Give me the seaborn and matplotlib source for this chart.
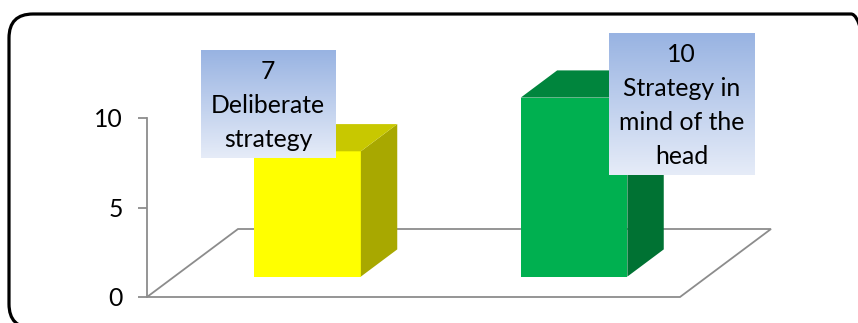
import numpy as np
import matplotlib
matplotlib.use("Agg")
import matplotlib.pyplot as plt
import seaborn as sns
from matplotlib.patches import Polygon, FancyBboxPatch
from matplotlib.transforms import Affine2D, IdentityTransform, Bbox
from matplotlib.image import BboxImage
from matplotlib.colors import LinearSegmentedColormap

# ---- data -------------------------------------------------------------
categories = ["Deliberate strategy", "Strategy in mind of the head"]
label_names = ["Deliberate\nstrategy", "Strategy in\nmind of the\nhead"]
values = [7, 10]
yticks = [0, 5, 10]

# ---- styling ----------------------------------------------------------
front_colors = ["#FFFF00", "#00B050"]
top_colors = ["#C8C800", "#00853D"]
side_colors = ["#A8A800", "#007233"]
axis_grey = "#8C8C8C"
label_top, label_bottom = "#98B3E2", "#E6ECF8"

DPI = 100
W, H = 858, 323
FLOOR_DEPTH = np.array([91.0, 68.0])   # depth vector of the floor, pixels
BAR_DEPTH = (0.30, 0.70)               # bars occupy this slice of the floor depth
FONT_PT = 17.8

sns.set_theme(style="white")
plt.rcParams["font.family"] = ["Lato", "DejaVu Sans"]
plt.rcParams["text.color"] = "black"

fig = plt.figure(figsize=(W / DPI, H / DPI), dpi=DPI)
ax = fig.add_axes([147 / W, (H - 297) / H, 533 / W, 179 / H])
ax.patch.set_alpha(0)

# front faces of the bars
sns.barplot(x=categories, y=values, hue=categories, palette=front_colors,
            width=0.4, saturation=1, legend=False, ax=ax, zorder=2)
ax.set_xlim(-0.5, len(categories) - 0.5)
ax.set_ylim(0, 10)


def proj(x, y, depth):
    """Data point (x, y) pushed back by `depth` (0..1) into the floor, in pixels."""
    p = ax.transData.transform((x, y))
    return p + depth * FLOOR_DEPTH


# floor of the 3-D plot
x0, x1 = ax.get_xlim()
floor = Polygon([proj(x0, 0, 0), proj(x1, 0, 0), proj(x1, 0, 1), proj(x0, 0, 1)],
                closed=True, facecolor="white", edgecolor=axis_grey, lw=1.3,
                transform=IdentityTransform(), clip_on=False, zorder=0.5)
ax.add_patch(floor)

d0, d1 = BAR_DEPTH
shift = Affine2D().translate(*(d0 * FLOOR_DEPTH))
bars = list(ax.patches[:len(values)])
for i, bar in enumerate(bars):
    bx, bw, bh = bar.get_x(), bar.get_width(), bar.get_height()
    bar.set_transform(ax.transData + shift)
    bar.set_clip_on(False)
    bar.set_edgecolor("none")
    side = Polygon([proj(bx + bw, 0, d0), proj(bx + bw, 0, d1),
                    proj(bx + bw, bh, d1), proj(bx + bw, bh, d0)],
                   closed=True, facecolor=side_colors[i], edgecolor="none",
                   transform=IdentityTransform(), clip_on=False, zorder=2)
    top = Polygon([proj(bx, bh, d0), proj(bx + bw, bh, d0),
                   proj(bx + bw, bh, d1), proj(bx, bh, d1)],
                  closed=True, facecolor=top_colors[i], edgecolor="none",
                  transform=IdentityTransform(), clip_on=False, zorder=2)
    ax.add_patch(side)
    ax.add_patch(top)

# value axis
for s in ["top", "right", "bottom"]:
    ax.spines[s].set_visible(False)
ax.spines["left"].set_color(axis_grey)
ax.spines["left"].set_linewidth(1.3)
ax.set_yticks(yticks)
ax.set_xticks([])
ax.tick_params(axis="y", left=True, length=6.5, width=1.3, color=axis_grey,
               pad=11, labelsize=FONT_PT, labelcolor="black")
ax.set_xlabel("")
ax.set_ylabel("")

# data labels: value + category
offsets_px = [(-39.5, 45.5), (107.5, -7.5)]
labels = []
for i, (v, name) in enumerate(zip(values, label_names)):
    bar = bars[i]
    cx = bar.get_x() + bar.get_width() / 2
    t = ax.annotate(f"{v}\n{name}", xy=(cx, v), xycoords=ax.transData + shift,
                    xytext=(offsets_px[i][0] * 72 / DPI, offsets_px[i][1] * 72 / DPI),
                    textcoords="offset points", ha="center", va="center",
                    multialignment="center", fontsize=FONT_PT, linespacing=1.58,
                    color="black", annotation_clip=False, zorder=4)
    labels.append(t)

fig.canvas.draw()
renderer = fig.canvas.get_renderer()
grad = LinearSegmentedColormap.from_list("lbl", [label_top, label_bottom])
pad_x, pad_top, pad_bottom = 10, 9, 7
for t in labels:
    ext = t.get_window_extent(renderer)
    img = BboxImage(Bbox.from_extents(ext.x0 - pad_x, ext.y0 - pad_bottom,
                                      ext.x1 + pad_x, ext.y1 + pad_top),
                    cmap=grad, origin="upper", zorder=3.5)
    img.set_data(np.linspace(0, 1, 256).reshape(-1, 1))
    img.set_clip_on(False)
    ax.add_artist(img)

# rounded frame around the chart area
frame = FancyBboxPatch((9, -5), 866, H - 14 + 5,
                       boxstyle="round,pad=0,rounding_size=24",
                       facecolor="none", edgecolor="black", lw=2.3,
                       transform=IdentityTransform(), zorder=10)
fig.add_artist(frame)

fig.savefig("out.png", dpi=DPI, facecolor="white")
